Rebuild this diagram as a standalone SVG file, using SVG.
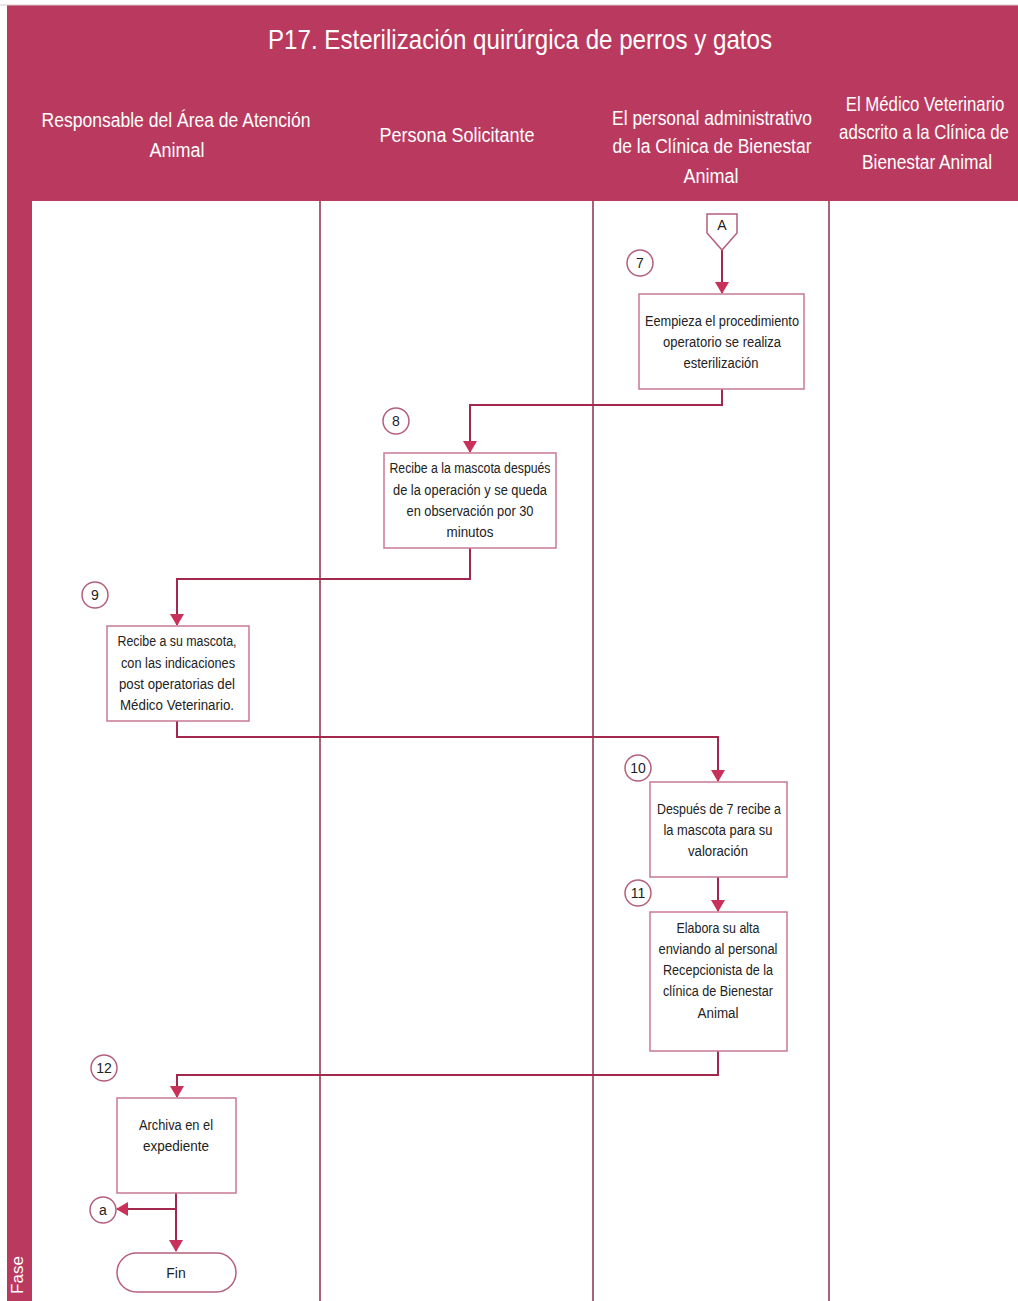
<svg xmlns="http://www.w3.org/2000/svg" width="1018" height="1301" viewBox="0 0 1018 1301">
<defs>
<style>
.hdr{font-family:"Liberation Sans",sans-serif;font-size:20px;fill:#ffffff;text-anchor:middle}
.ttl{font-family:"Liberation Sans",sans-serif;font-size:28px;fill:#ffffff;text-anchor:middle}
.box{fill:#ffffff;stroke:#c77a92;stroke-width:1.5}
.txt{font-family:"Liberation Sans",sans-serif;font-size:14px;fill:#222222;text-anchor:middle}
.num{fill:#ffffff;stroke:#b5607a;stroke-width:1.5}
.lane{stroke:#8c2e4a;stroke-width:1.5;fill:none}
.conn{stroke:#a3284d;stroke-width:2;fill:none}
</style>
<marker id="arr" viewBox="0 0 12 14" refX="11" refY="7" markerWidth="12" markerHeight="14" markerUnits="userSpaceOnUse" orient="auto">
<path d="M0,0 L12,7 L0,14 Z" fill="#c8325a"/>
</marker>
</defs>
<rect x="0" y="0" width="1018" height="1301" fill="#ffffff"/>
<g id="frame">
<rect x="7" y="5" width="1011" height="196" fill="#b93a5e"/>
<rect x="7" y="5" width="25" height="1296" fill="#b93a5e"/>
<line x1="0" y1="5" x2="1018" y2="5" stroke="#d8c8cc" stroke-width="1"/>
<text class="ttl" x="520" y="49" textLength="504" lengthAdjust="spacingAndGlyphs">P17. Esterilización quirúrgica de perros y gatos</text>
<text class="hdr" x="176" y="127" textLength="269" lengthAdjust="spacingAndGlyphs">Responsable del Área de Atención</text>
<text class="hdr" x="177" y="157" textLength="55" lengthAdjust="spacingAndGlyphs">Animal</text>
<text class="hdr" x="457" y="142" textLength="155" lengthAdjust="spacingAndGlyphs">Persona Solicitante</text>
<text class="hdr" x="712" y="125" textLength="200" lengthAdjust="spacingAndGlyphs">El personal administrativo</text>
<text class="hdr" x="712" y="153" textLength="199" lengthAdjust="spacingAndGlyphs">de la Clínica de Bienestar</text>
<text class="hdr" x="711" y="183" textLength="55" lengthAdjust="spacingAndGlyphs">Animal</text>
<text class="hdr" transform="translate(925,111) scale(0.84,1)" x="0" y="0">El Médico Veterinario</text>
<text class="hdr" transform="translate(924,139) scale(0.84,1)" x="0" y="0">adscrito a la Clínica de</text>
<text class="hdr" x="927" y="169" textLength="130" lengthAdjust="spacingAndGlyphs">Bienestar Animal</text>
<text x="23" y="1275" transform="rotate(-90 23 1275)" font-family="Liberation Sans, sans-serif" font-size="17" fill="#ffffff" text-anchor="middle">Fase</text>
<line class="lane" x1="320" y1="201" x2="320" y2="1301"/>
<line class="lane" x1="593" y1="201" x2="593" y2="1301"/>
<line class="lane" x1="829" y1="201" x2="829" y2="1301"/>
</g>
<g id="connectors">
<line class="conn" x1="722" y1="250" x2="722" y2="293" marker-end="url(#arr)"/>
<polyline class="conn" points="722,389 722,405 470,405 470,452" marker-end="url(#arr)"/>
<polyline class="conn" points="470,548 470,579 177,579 177,625" marker-end="url(#arr)"/>
<polyline class="conn" points="177,721 177,737 718,737 718,781" marker-end="url(#arr)"/>
<line class="conn" x1="718" y1="877" x2="718" y2="911" marker-end="url(#arr)"/>
<polyline class="conn" points="718,1051 718,1075 177,1075 177,1097" marker-end="url(#arr)"/>
<line class="conn" x1="176" y1="1193" x2="176" y2="1251" marker-end="url(#arr)"/>
<line class="conn" x1="176" y1="1209" x2="117" y2="1209" marker-end="url(#arr)"/>
</g>
<g id="nodeA">
<path d="M707,214 L737,214 L737,233 L722,250 L707,233 Z" fill="#ffffff" stroke="#b5607a" stroke-width="1.5"/>
<text class="txt" x="722" y="230" font-size="13">A</text>
</g>
<g id="node7">
<circle class="num" cx="640" cy="263" r="13"/>
<text class="txt" x="640" y="268" font-size="13">7</text>
<rect class="box" x="639" y="294" width="165" height="95"/>
<text class="txt" x="722" y="326" textLength="154" lengthAdjust="spacingAndGlyphs">Eempieza el procedimiento</text>
<text class="txt" x="722" y="347" textLength="118" lengthAdjust="spacingAndGlyphs">operatorio se realiza</text>
<text class="txt" x="721" y="368" textLength="75" lengthAdjust="spacingAndGlyphs">esterilización</text>
</g>
<g id="node8">
<circle class="num" cx="396" cy="421" r="13"/>
<text class="txt" x="396" y="426" font-size="13">8</text>
<rect class="box" x="384" y="453" width="172" height="95"/>
<text class="txt" x="470" y="473" textLength="161" lengthAdjust="spacingAndGlyphs">Recibe a la mascota después</text>
<text class="txt" x="470" y="495" textLength="154" lengthAdjust="spacingAndGlyphs">de la operación y se queda</text>
<text class="txt" x="470" y="516" textLength="127" lengthAdjust="spacingAndGlyphs">en observación por 30</text>
<text class="txt" x="470" y="537" textLength="47" lengthAdjust="spacingAndGlyphs">minutos</text>
</g>
<g id="node9">
<circle class="num" cx="95" cy="595" r="13"/>
<text class="txt" x="95" y="600" font-size="13">9</text>
<rect class="box" x="107" y="626" width="142" height="95"/>
<text class="txt" x="177" y="646" textLength="119" lengthAdjust="spacingAndGlyphs">Recibe a su mascota,</text>
<text class="txt" x="178" y="668" textLength="114" lengthAdjust="spacingAndGlyphs">con las indicaciones</text>
<text class="txt" x="177" y="689" textLength="116" lengthAdjust="spacingAndGlyphs">post operatorias del</text>
<text class="txt" x="177" y="710" textLength="114" lengthAdjust="spacingAndGlyphs">Médico Veterinario.</text>
</g>
<g id="node10">
<circle class="num" cx="638" cy="768" r="13"/>
<text class="txt" x="638" y="773" font-size="13">10</text>
<rect class="box" x="650" y="782" width="137" height="95"/>
<text class="txt" x="719" y="814" textLength="124" lengthAdjust="spacingAndGlyphs">Después de 7 recibe a</text>
<text class="txt" x="718" y="835" textLength="109" lengthAdjust="spacingAndGlyphs">la mascota para su</text>
<text class="txt" x="718" y="856" textLength="60" lengthAdjust="spacingAndGlyphs">valoración</text>
</g>
<g id="node11">
<circle class="num" cx="638" cy="893" r="13"/>
<text class="txt" x="638" y="898" font-size="13">11</text>
<rect class="box" x="650" y="912" width="137" height="139"/>
<text class="txt" x="718" y="933" textLength="83" lengthAdjust="spacingAndGlyphs">Elabora su alta</text>
<text class="txt" x="718" y="954" textLength="119" lengthAdjust="spacingAndGlyphs">enviando al personal</text>
<text class="txt" x="718" y="975" textLength="110" lengthAdjust="spacingAndGlyphs">Recepcionista de la</text>
<text class="txt" x="718" y="996" textLength="110" lengthAdjust="spacingAndGlyphs">clínica de Bienestar</text>
<text class="txt" x="718" y="1018" textLength="41" lengthAdjust="spacingAndGlyphs">Animal</text>
</g>
<g id="node12">
<circle class="num" cx="104" cy="1068" r="13"/>
<text class="txt" x="104" y="1073" font-size="13">12</text>
<rect class="box" x="117" y="1098" width="119" height="95"/>
<text class="txt" x="176" y="1130" textLength="74" lengthAdjust="spacingAndGlyphs">Archiva en el</text>
<text class="txt" x="176" y="1151" textLength="66" lengthAdjust="spacingAndGlyphs">expediente</text>
</g>
<g id="nodeA2">
<circle class="num" cx="103" cy="1210" r="13"/>
<text class="txt" x="103" y="1215" font-size="13">a</text>
</g>
<g id="nodeFin">
<rect x="117" y="1253" width="119" height="39" rx="19.5" fill="#ffffff" stroke="#b5607a" stroke-width="1.5"/>
<text class="txt" x="176" y="1278">Fin</text>
</g>
</svg>
